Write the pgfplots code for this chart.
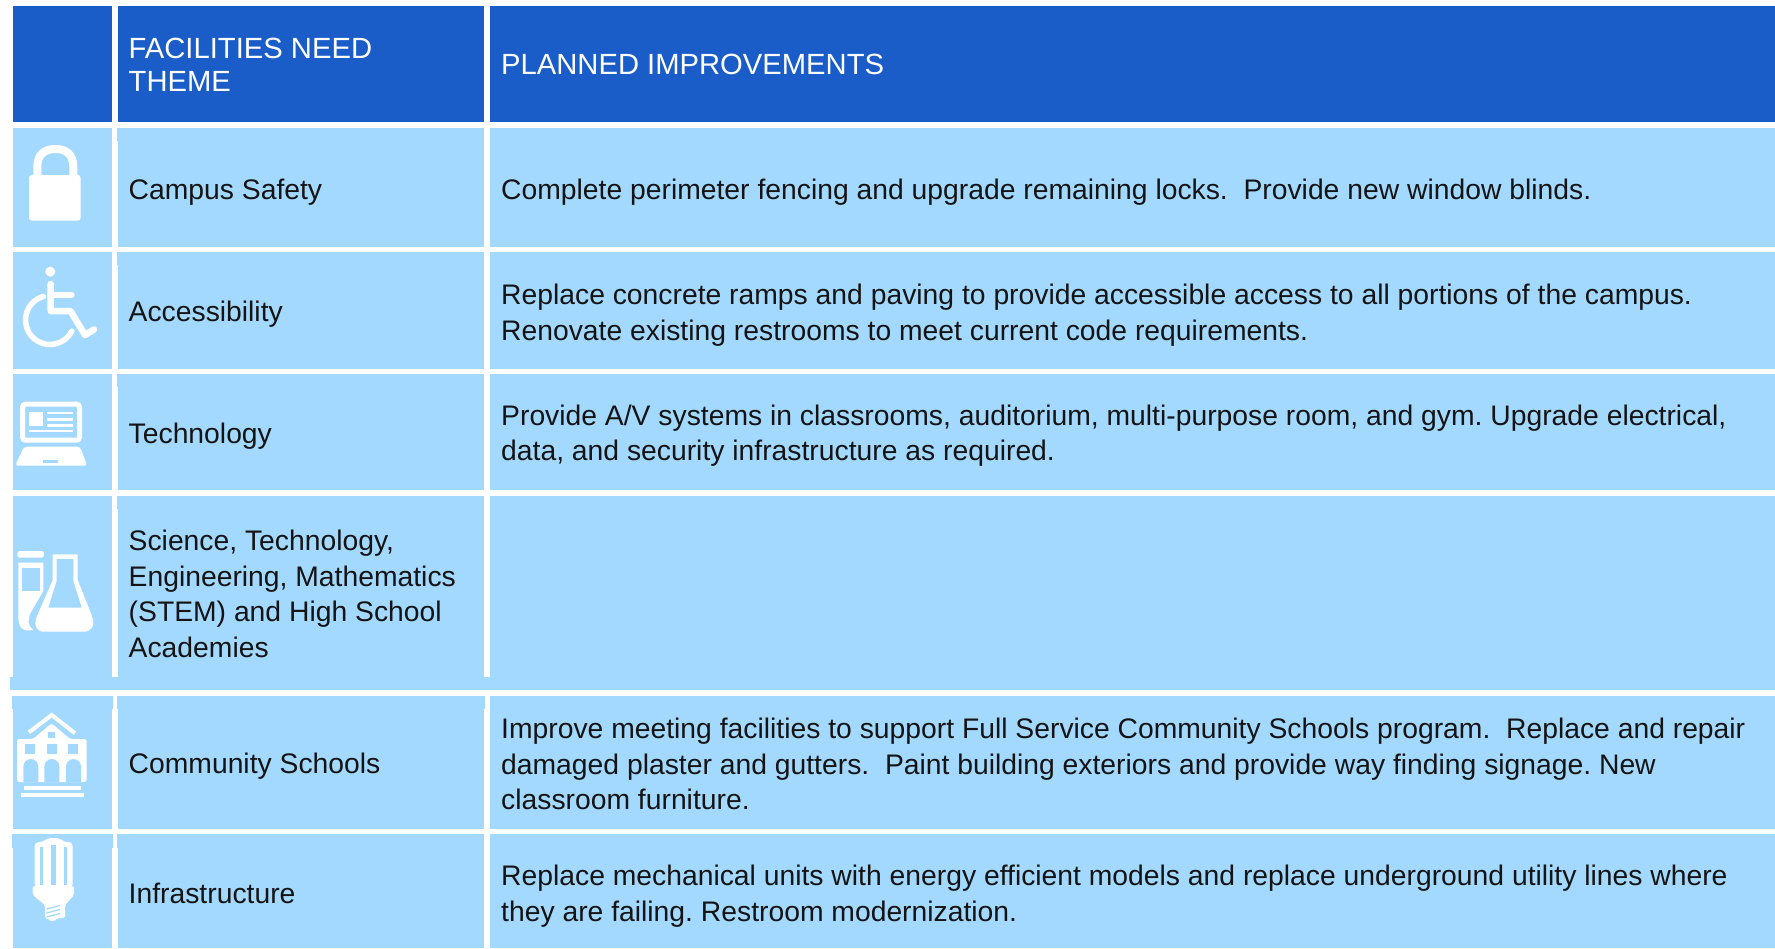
\documentclass[border=0pt]{standalone}
\usepackage{pgfplots}
\pgfplotsset{compat=1.18}
\usepackage{fontspec}
\setmainfont{Liberation Sans}
\frenchspacing
\definecolor{hdr}{HTML}{1A5DC8}
\definecolor{cel}{HTML}{A4D9FF}
\definecolor{ink}{HTML}{141414}
\newcommand{\cell}[5]{\addplot[fill=#5,draw=none,forget plot] coordinates {(#1,#2)(#3,#2)(#3,#4)(#1,#4)} -- cycle;}
\newcommand{\tb}[3]{\node[anchor=base west,inner sep=0pt,text=ink,font=\fontsize{28.3}{34}\selectfont] at (axis cs:#1,#2) {#3};}
\newcommand{\thd}[3]{\node[anchor=base west,inner sep=0pt,text=white,font=\fontsize{29.2}{34}\selectfont] at (axis cs:#1,#2) {#3};}
\newcommand{\arch}[2]{\fill[cel] (axis cs:#1,782) -- (axis cs:#1,766.5) .. controls (axis cs:#1+0,762.4) and (axis cs:#1+3.4,759) .. (axis cs:#1+7.5,759) .. controls (axis cs:#1+11.6,759) and (axis cs:#2,762.4) .. (axis cs:#2,766.5) -- (axis cs:#2,782) -- cycle;}
\begin{document}
\begin{tikzpicture}
\begin{axis}[scale only axis,width=1775pt,height=948pt,hide axis,
  xmin=0,xmax=1775,ymin=0,ymax=948,y dir=reverse,clip=true]
\path (axis cs:0,0) rectangle (axis cs:1775,948);
% header
\cell{13}{6}{112}{122}{hdr}
\cell{118}{6}{484}{122}{hdr}
\cell{490}{6}{1775}{122}{hdr}
% rows
\cell{13}{128}{112}{247}{cel}\cell{118}{128}{484}{247}{cel}\cell{490}{128}{1775}{247}{cel}
\cell{117}{128}{119}{141}{cel}
\cell{13}{252}{112}{369}{cel}\cell{118}{252}{484}{369}{cel}\cell{490}{252}{1775}{369}{cel}
\cell{117}{252}{119}{265}{cel}
\cell{13}{374}{112}{490}{cel}\cell{118}{374}{484}{490}{cel}\cell{490}{374}{1775}{490}{cel}
\cell{117}{374}{119}{387}{cel}
\cell{13}{496}{112}{690}{cel}\cell{118}{496}{484}{690}{cel}\cell{490}{496}{1775}{690}{cel}
\cell{117}{496}{119}{509}{cel}
\cell{10}{677}{1775}{690}{cel}
\cell{13}{696}{112}{829}{cel}\cell{118}{696}{484}{829}{cel}\cell{490}{696}{1775}{829}{cel}
\cell{12}{696}{113}{709}{cel}\cell{117}{696}{485}{709}{cel}
\cell{13}{834}{112}{948}{cel}\cell{118}{834}{484}{948}{cel}\cell{490}{834}{1775}{948}{cel}
\cell{12}{834}{113}{848}{cel}\cell{117}{834}{119}{848}{cel}
% header text
\thd{128.5}{58.7}{FACILITIES NEED}
\thd{128.5}{91.3}{THEME}
\thd{501}{74}{PLANNED IMPROVEMENTS}
% column 2
\tb{128.5}{199}{Campus Safety}
\tb{128.5}{321.7}{Accessibility}
\tb{128.5}{443.3}{Technology}
\tb{128.5}{550.7}{Science, Technology,}
\tb{128.5}{586.7}{Engineering, Mathematics}
\tb{128.5}{621.7}{(STEM) and High School}
\tb{128.5}{657.7}{Academies}
\tb{128.5}{773.3}{Community Schools}
\tb{128.5}{903.3}{Infrastructure}
% column 3
\tb{501}{199}{Complete perimeter fencing and upgrade remaining locks.\ \ Provide new window blinds.}
\tb{501}{304}{Replace concrete ramps and paving to provide accessible access to all portions of the campus.}
\tb{501}{340}{Renovate existing restrooms to meet current code requirements.}
\tb{501}{425.7}{Provide A/V systems in classrooms, auditorium, multi-purpose room, and gym. Upgrade electrical,}
\tb{501}{460.7}{data, and security infrastructure as required.}
\tb{501}{738.3}{Improve meeting facilities to support Full Service Community Schools program.\ \ Replace and repair}
\tb{501}{774.3}{damaged plaster and gutters.\ \ Paint building exteriors and provide way finding signage. New}
\tb{501}{809}{classroom furniture.}
\tb{501}{885.7}{Replace mechanical units with energy efficient models and replace underground utility lines where}
\tb{501}{921.7}{they are failing. Restroom modernization.}
% lock
\fill[white,rounded corners=3pt] (axis cs:29,175) rectangle (axis cs:80.7,220.7);
\draw[white,line width=8pt] (axis cs:37.3,177) -- (axis cs:37.3,167) .. controls (axis cs:37.3,154) and (axis cs:45,149) .. (axis cs:55.3,149) .. controls (axis cs:66,149) and (axis cs:73.3,154) .. (axis cs:73.3,167) -- (axis cs:73.3,177);
% wheelchair
\fill[white] (axis cs:50.3,271.7) circle[radius=5pt];
\draw[white,line width=6.5pt,line cap=round,line join=round] (axis cs:50.7,284) -- (axis cs:50.7,311) -- (axis cs:70.5,311) -- (axis cs:85,335) -- (axis cs:94,329.5);
\draw[white,line width=6.5pt,line cap=round] (axis cs:50.7,295) -- (axis cs:71.5,295);
\draw[white,line width=5.5pt,line cap=round] (axis cs:43.25,296.45) arc[start angle=106,end angle=333,radius=24.5pt];
% laptop
\draw[white,line width=5pt,rounded corners=3pt] (axis cs:22.5,404.2) rectangle (axis cs:79.5,440.2);
\fill[white] (axis cs:29.3,411.7) rectangle (axis cs:42.7,425.7);
\fill[white] (axis cs:46.7,411.8) rectangle (axis cs:72.7,414.2);
\fill[white] (axis cs:46.7,418.1) rectangle (axis cs:72.7,420.5);
\fill[white] (axis cs:46.7,424.1) rectangle (axis cs:72.7,426.5);
\fill[white] (axis cs:29.3,429.8) rectangle (axis cs:72.7,432.2);
\fill[white,rounded corners=3pt] (axis cs:15,465.7) -- (axis cs:24,446.7) -- (axis cs:80,446.7) -- (axis cs:87.3,465.7) -- cycle;
\fill[cel] (axis cs:43.3,460) rectangle (axis cs:58.3,463.3);
% flask and tube
\fill[white,rounded corners=2.5pt] (axis cs:17.3,551) rectangle (axis cs:44,557.7);
\fill[white] (axis cs:18.3,562.7) -- (axis cs:43.3,562.7) -- (axis cs:43.3,591) -- (axis cs:31,612) .. controls (axis cs:27,620) and (axis cs:28,626) .. (axis cs:33.3,630) -- (axis cs:27,630.5) .. controls (axis cs:21,630) and (axis cs:18.3,625) .. (axis cs:18.3,618) -- cycle;
\fill[cel] (axis cs:22,568.3) rectangle (axis cs:40,591);
\fill[white] (axis cs:52.7,554.3) -- (axis cs:77.7,554.3) -- (axis cs:77.7,580) -- (axis cs:92,616) .. controls (axis cs:95.5,626) and (axis cs:91,631.7) .. (axis cs:84,631.7) -- (axis cs:44,631.7) .. controls (axis cs:37,631.7) and (axis cs:33,626) .. (axis cs:37,616) -- (axis cs:52.7,580) -- cycle;
\fill[cel] (axis cs:56.7,559) -- (axis cs:73.3,559) -- (axis cs:73.3,581) -- (axis cs:81.7,607.7) -- (axis cs:48.3,607.7) -- (axis cs:56.7,581) -- cycle;
% building
\draw[white,line width=4pt] (axis cs:29,732.3) -- (axis cs:51.7,715) -- (axis cs:75,733.3);
\fill[white,rounded corners=2.5pt] (axis cs:17,782) -- (axis cs:17,739) -- (axis cs:33,739) -- (axis cs:51.7,723.3) -- (axis cs:70,739) -- (axis cs:86.7,739) -- (axis cs:86.7,782) -- cycle;
\fill[cel] (axis cs:48.3,731.7) rectangle (axis cs:55,738.3);
\fill[cel] (axis cs:25,744.3) rectangle (axis cs:35,754.3);
\fill[cel] (axis cs:46.7,744.3) rectangle (axis cs:56.7,754.3);
\fill[cel] (axis cs:68.3,744.3) rectangle (axis cs:78.3,754.3);
\arch{23.3}{38.3}
\arch{44.3}{59.3}
\arch{66}{81}
\fill[white] (axis cs:24,786) rectangle (axis cs:81,790);
\fill[white] (axis cs:21,793) rectangle (axis cs:84,796.7);
% bulb
\fill[white,rounded corners=4pt] (axis cs:34.7,888) -- (axis cs:34.7,842) -- (axis cs:44,842) -- (axis cs:47,838) -- (axis cs:60,838) -- (axis cs:63,842) -- (axis cs:72.7,842) -- (axis cs:72.7,888) -- cycle;
\fill[cel] (axis cs:39.7,847) rectangle (axis cs:43,885);
\fill[cel] (axis cs:51,845) rectangle (axis cs:55.7,885);
\fill[cel] (axis cs:64,847) rectangle (axis cs:67.3,885);
\fill[white,rounded corners=2pt] (axis cs:32.7,886) -- (axis cs:74,886) -- (axis cs:74,895) -- (axis cs:65,905) -- (axis cs:65,918) -- (axis cs:58,918) -- (axis cs:52,922) -- (axis cs:47,918) -- (axis cs:45,918) -- (axis cs:45,905) -- (axis cs:32.7,895) -- cycle;
\draw[cel,line width=1.2pt] (axis cs:46.5,909) -- (axis cs:60,905.5);
\draw[cel,line width=1.2pt] (axis cs:46.5,913) -- (axis cs:60,909.5);
\draw[cel,line width=1.2pt] (axis cs:46.5,917) -- (axis cs:60,913.5);
\end{axis}
\end{tikzpicture}
\end{document}
